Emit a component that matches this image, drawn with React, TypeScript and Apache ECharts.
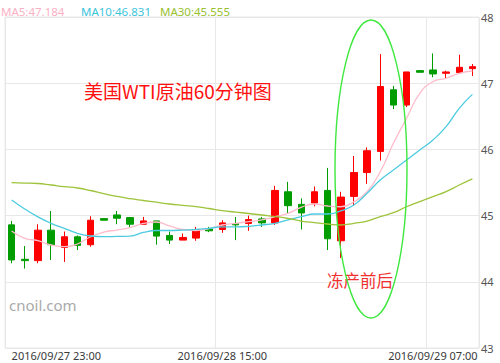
import React, { useEffect, useRef } from 'react';
import * as echarts from 'echarts';

const categories = [
  '2016/09/27 23:00',
  '2016/09/28 00:00', '2016/09/28 01:00', '2016/09/28 02:00', '2016/09/28 03:00',
  '2016/09/28 04:00', '2016/09/28 05:00', '2016/09/28 06:00', '2016/09/28 07:00',
  '2016/09/28 08:00', '2016/09/28 09:00', '2016/09/28 10:00', '2016/09/28 11:00',
  '2016/09/28 12:00', '2016/09/28 13:00', '2016/09/28 14:00', '2016/09/28 15:00',
  '2016/09/28 16:00', '2016/09/28 17:00', '2016/09/28 18:00', '2016/09/28 19:00',
  '2016/09/28 20:00', '2016/09/28 21:00', '2016/09/28 22:00', '2016/09/28 23:00',
  '2016/09/29 00:00', '2016/09/29 01:00', '2016/09/29 02:00', '2016/09/29 03:00',
  '2016/09/29 04:00', '2016/09/29 05:00', '2016/09/29 06:00', '2016/09/29 07:00',
  '2016/09/29 08:00', '2016/09/29 09:00', '2016/09/29 10:00',
];

const openVals = [
  44.86, 44.34, 44.32, 44.78, 44.52, 44.68, 44.56, 44.955, 45.01, 44.97,
  44.87, 44.92, 44.70, 44.63, 44.66, 44.80, 44.79, 44.88, 44.88, 44.95,
  44.89, 45.36, 45.17, 45.19, 45.38, 44.62, 45.29, 45.65, 45.97, 46.90,
  46.67, 47.19, 47.20, 47.15, 47.16, 47.22,
];
const closeVals = [
  44.33, 44.32, 44.78, 44.56, 44.68, 44.55, 44.93, 44.93, 44.96, 44.87,
  44.92, 44.69, 44.63, 44.67, 44.79, 44.77, 44.89, 44.86, 44.94, 44.89,
  45.38, 45.15, 45.04, 45.36, 44.65, 45.28, 45.65, 45.98, 46.95, 46.67,
  47.17, 47.165, 47.14, 47.17, 47.24, 47.25,
];
const lowVals = [
  44.28, 44.20, 44.28, 44.33, 44.30, 44.48, 44.53, 44.93, 44.87, 44.82,
  44.87, 44.56, 44.57, 44.63, 44.62, 44.75, 44.74, 44.63, 44.77, 44.83,
  44.86, 45.03, 44.79, 45.14, 44.48, 44.36, 45.15, 45.48, 45.83, 46.61,
  46.64, 47.165, 47.09, 47.07, 47.15, 47.11,
];
const highVals = [
  44.92, 44.54, 44.87, 45.07, 44.76, 44.70, 44.99, 44.955, 45.07, 44.98,
  44.98, 44.92, 44.76, 44.73, 44.83, 44.83, 44.93, 44.98, 45.00, 44.98,
  45.45, 45.51, 45.26, 45.44, 45.72, 45.36, 45.90, 46.03, 47.44, 46.96,
  47.17, 47.19, 47.45, 47.19, 47.43, 47.29,
];

const ma5 = [
  44.767, 44.657, 44.621, 44.556, 44.530, 44.571, 44.681, 44.752, 44.782, 44.820,
  44.881, 44.903, 44.843, 44.790, 44.775, 44.805, 44.858, 44.884, 44.908, 44.934,
  44.983, 45.035, 45.125, 45.175, 45.145, 45.134, 45.210, 45.361, 45.663, 46.092,
  46.470, 46.847, 47.023, 47.074, 47.150, 47.184,
];
const ma10 = [
  45.236, 45.100, 44.980, 44.884, 44.808, 44.733, 44.692, 44.681, 44.686, 44.690,
  44.745, 44.775, 44.775, 44.782, 44.793, 44.808, 44.830, 44.830, 44.838, 44.858,
  44.884, 44.934, 44.983, 45.024, 45.024, 45.070, 45.160, 45.337, 45.538, 45.689,
  45.840, 45.991, 46.142, 46.343, 46.621, 46.831,
];
const ma30 = [
  45.497, 45.492, 45.485, 45.462, 45.437, 45.417, 45.379, 45.331, 45.289, 45.255,
  45.228, 45.202, 45.175, 45.154, 45.134, 45.107, 45.074, 45.054, 45.032, 45.009,
  44.986, 44.956, 44.918, 44.893, 44.873, 44.858, 44.884, 44.918, 44.983, 45.044,
  45.134, 45.210, 45.286, 45.361, 45.462, 45.555,
];

const maNames = ['MA5', 'MA10', 'MA30'];
const maLegendValues = ['47.184', '46.831', '45.555'];
const maColors = ['#ffbccb', '#4ccbe0', '#9dc43a'];
const maTextColors = ['#fbb0c4', '#3cc4dc', '#99c12f'];
const maLegendX = [1, 81, 160];

const yMin = 43;
const yMax = 48;
const yInterval = 1;

export default function App() {
  const ref = useRef<HTMLDivElement>(null);

  useEffect(() => {
    document.body.style.margin = '0';
    const chart = echarts.init(ref.current!, null, { renderer: 'svg' });
    const kData = categories.map((_, i) => [openVals[i], closeVals[i], lowVals[i], highVals[i]]);
    const maSeries = [ma5, ma10, ma30];

    chart.setOption({
      animation: false,
      textStyle: { fontFamily: 'Noto Sans' },
      grid: {
        left: 5,
        right: 21,
        top: 17,
        bottom: 15,
        show: true,
        borderColor: '#e8e8e8',
        borderWidth: 1,
        outerBoundsMode: 'none',
      },
      xAxis: {
        type: 'category',
        data: categories,
        boundaryGap: true,
        axisLine: { show: false },
        axisTick: { show: false, interval: 15 },
        axisLabel: {
          interval: 15,
          margin: 2,
          fontSize: 11,
          color: '#3a3a3a',
          fontFamily: 'Noto Sans',
          alignMinLabel: 'left',
        },
        splitLine: { show: true, interval: 15, lineStyle: { color: '#e8e8e8', width: 1 } },
      },
      yAxis: {
        type: 'value',
        position: 'right',
        min: yMin,
        max: yMax,
        interval: yInterval,
        scale: true,
        axisLine: { show: false },
        axisTick: { show: false },
        axisLabel: { margin: 2, fontSize: 11, color: '#555', fontFamily: 'Noto Sans' },
        splitLine: { show: true, lineStyle: { color: '#e8e8e8', width: 1 } },
      },
      series: [
        {
          type: 'candlestick',
          data: kData,
          barWidth: 7,
          itemStyle: {
            color: '#ff0000',
            color0: '#009c00',
            borderColor: '#ff0000',
            borderColor0: '#009c00',
            borderWidth: 1,
          },
        },
        ...maSeries.map((d, i) => ({
          type: 'line',
          name: maNames[i],
          data: d,
          smooth: true,
          symbol: 'none',
          lineStyle: { color: maColors[i], width: 1.3 },
          z: 3,
        })),
      ],
      graphic: [
        ...maNames.map((n, i) => ({
          type: 'text',
          x: maLegendX[i],
          y: 11,
          style: {
            text: `${n}:${maLegendValues[i]}`,
            fill: maTextColors[i],
            font: '11.5px "Noto Sans"',
            verticalAlign: 'middle',
          },
        })),
        {
          type: 'text',
          x: 84,
          y: 90,
          z: 10,
          style: {
            text: '美国WTI原油60分钟图',
            fill: '#ff1010',
            font: '19px "Noto Sans CJK SC"',
            verticalAlign: 'middle',
          },
        },
        {
          type: 'text',
          x: 327,
          y: 280,
          z: 10,
          style: {
            text: '冻产前后',
            fill: '#f23030',
            font: '16.5px "Noto Sans CJK SC"',
            verticalAlign: 'middle',
          },
        },
        {
          type: 'text',
          x: 9,
          y: 305,
          z: 10,
          style: {
            text: 'cnoil.com',
            fill: '#aaaaaa',
            font: '15px "Noto Sans"',
            verticalAlign: 'middle',
          },
        },
        {
          type: 'ellipse',
          z: 10,
          shape: { cx: 371, cy: 169, rx: 36, ry: 149 },
          style: { fill: 'none', stroke: '#3fe83f', lineWidth: 1.4 },
        },
      ],
    });

    return () => chart.dispose();
  }, []);

  return (
    <div
      ref={ref}
      style={{ position: 'fixed', left: 0, top: 0, width: 500, height: 363, background: '#fff' }}
    />
  );
}
